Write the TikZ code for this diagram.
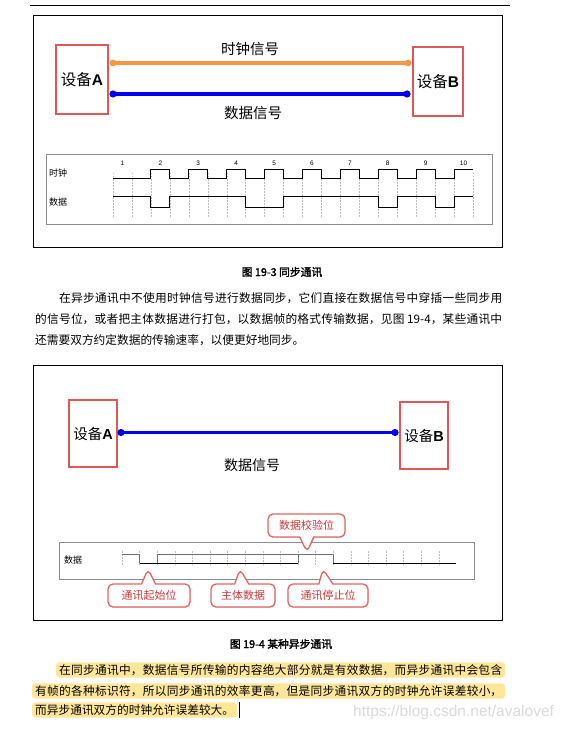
\documentclass[tikz,border=0pt]{standalone}
\usepackage{fontspec}
\setmainfont{Noto Sans CJK SC}[AutoFakeBold=2]
\newfontfamily\latinfont{Liberation Sans}
\usetikzlibrary{arrows.meta, shapes.callouts, shadows}
\XeTeXlinebreaklocale "zh"
\XeTeXlinebreakskip=0pt plus 2pt
\definecolor{devedge}{HTML}{E15757}
\definecolor{clkwire}{HTML}{F79646}
\definecolor{datwire}{HTML}{0000F0}
\definecolor{tfedge}{HTML}{8C8C8C}
\definecolor{gridln}{HTML}{BDBDBD}
\definecolor{calledge}{HTML}{E06666}
\definecolor{calltext}{HTML}{C83A3A}
\definecolor{hlfill}{HTML}{FFE699}
\definecolor{wmark}{HTML}{D9D9D9}
\newcommand{\jline}[1]{\parfillskip=0pt #1\par}

\begin{document}
\begin{tikzpicture}[x=1pt, y=-1pt,
  outframe/.style={rectangle, draw=black, line width=0.9pt, inner sep=0pt},
  tframe/.style={rectangle, draw=tfedge, line width=0.6pt, fill=white, inner sep=0pt,
                 drop shadow={shadow xshift=1pt, shadow yshift=-1pt, opacity=0.6, fill=black}},
  dev/.style={rectangle, draw=devedge, line width=1.5pt, fill=white, inner sep=0pt,
              align=center, font=\fontsize{15.5}{18}\selectfont},
  clk/.style={draw=clkwire, line width=3.6pt},
  dat/.style={draw=datwire, line width=3.2pt},
  clkdot/.style={fill=clkwire},
  datdot/.style={fill=datwire},
  siglab/.style={font=\fontsize{14.5}{17}\selectfont},
  rowlab/.style={font=\fontsize{9}{10}\selectfont},
  numlab/.style={font=\latinfont\fontsize{6.5}{7}\selectfont},
  gridtick/.style={draw=gridln, line width=0.4pt, dash pattern=on 1.5pt off 1.5pt},
  wave/.style={draw=black, line width=0.9pt},
  wavethin/.style={draw=black!55, line width=0.6pt},
  callbox/.style={rectangle callout, rounded corners=5pt, draw=calledge, line width=1.3pt,
                  fill=white, text=calltext, minimum height=23pt, inner xsep=5pt,
                  callout pointer width=14pt, font=\fontsize{11}{13}\selectfont,
                  drop shadow={opacity=0.25, shadow xshift=0.8pt, shadow yshift=-0.8pt}},
  figcap/.style={font=\bfseries\fontsize{10.8}{13}\selectfont},
  para/.style={anchor=west, inner sep=0pt, align=justify, font=\fontsize{11.7}{14}\selectfont},
  hlpara/.style={para, fill=hlfill, rounded corners=3pt, inner xsep=3pt, inner ysep=2pt},
]
\path[use as bounding box] (0,0) rectangle (568,730);
% ================= page header rule ============================
\coordinate (hdl) at (30,5);
\coordinate (hdr) at (510,5);
\draw[line width=0.8pt] (hdl) -- (hdr);
% ================= FIG 19-3: synchronous link ==================
\node[outframe, minimum width=469pt, minimum height=232pt] (fig1) at (267.5,131) {};
\node[dev, minimum width=52pt, minimum height=69pt] (devA) at (82,79.5) {设备{\latinfont\bfseries A}};
\node[dev, minimum width=50pt, minimum height=69pt] (devB) at (438,81.5) {设备{\latinfont\bfseries B}};
\coordinate (clkA) at (113,63);
\coordinate (clkB) at (408,63);
\coordinate (datA) at (113,94);
\coordinate (datB) at (407,94);
\draw[clk] (clkA) -- (clkB);
\draw[dat] (datA) -- (datB);
\fill[clkdot] (clkA) circle[radius=3.4pt] (clkB) circle[radius=3.4pt];
\fill[datdot] (datA) circle[radius=3.6pt] (datB) circle[radius=3.6pt];
\node[siglab] (clklab) at (250,49) {时钟信号};
\node[siglab] (datlab) at (253,113) {数据信号};
% timing chart
\node[tframe, minimum width=446pt, minimum height=70pt] (tf1) at (269,189) {};
\node[rowlab] (rclk) at (58,173) {时钟};
\node[rowlab] (rdat) at (58,202) {数据};
\begin{scope}[shift={(113,0)}, x=18.95pt]
  \foreach \j in {0,...,19} \draw[gridtick] (\j,173) -- (\j,217);
  \foreach \i in {1,...,10} \node[numlab] (num\i) at ({2*\i-1.5},163) {\i};
  \draw[wave] (0,178) -| (2,169) -| (3,178) -| (4,169) -| (5,178) -| (6,169) -| (7,178)
    -| (8,169) -| (9,178) -| (10,169) -| (11,178) -| (12,169) -| (13,178) -| (14,169)
    -| (15,178) -| (16,169) -| (17,178) -| (18,169) -- (19,169);
  \draw[wave] (0,196) -| (2,207) -| (3,196) -| (7,207) -| (9,196) -| (14,207)
    -| (15,196) -| (17,207) -| (18,196) -- (19,196);
\end{scope}
\node[figcap] (cap1) at (282,272) {图 19-3 同步通讯};
% ================= text between the figures ====================
\node[para, text width=443pt] (p1a) at (59,298) {\jline{在异步通讯中不使用时钟信号进行数据同步，它们直接在数据信号中穿插一些同步用}};
\node[para, text width=467pt] (p1b) at (35,319) {\jline{的信号位，或者把主体数据进行打包，以数据帧的格式传输数据，见图 19-4，某些通讯中}};
\node[para] (p1c) at (35,340) {还需要双方约定数据的传输速率，以便更好地同步。};
% ================= FIG 19-4: asynchronous link =================
\node[outframe, minimum width=469pt, minimum height=255pt] (fig2) at (267.5,492.5) {};
\node[dev, minimum width=48pt, minimum height=67pt, font=\fontsize{14.5}{17}\selectfont] (devA2) at (93,433.5) {设备{\latinfont\bfseries A}};
\node[dev, minimum width=48pt, minimum height=67pt, font=\fontsize{14.5}{17}\selectfont] (devB2) at (424,435.5) {设备{\latinfont\bfseries B}};
\coordinate (datA2) at (121,432.5);
\coordinate (datB2) at (395,432.5);
\draw[dat] (datA2) -- (datB2);
\fill[datdot] (datA2) circle[radius=3.6pt] (datB2) circle[radius=3.6pt];
\node[siglab, font=\fontsize{14}{16}\selectfont] (datlab2) at (252,465) {数据信号};
% frame chart
\node[tframe, minimum width=415pt, minimum height=37pt,
      drop shadow={shadow xshift=1.3pt, shadow yshift=-1.3pt, opacity=1, fill=black}] (tf2) at (266.5,560.5) {};
\node[rowlab] (rdat2) at (73,560) {数据};
\begin{scope}[shift={(122,0)}, x=17.6pt]
  \foreach \k in {0,...,18} \draw[gridtick] (\k,551) -- (\k,565);
  \draw[wavethin] (0,554) -| (1,563);
  \draw[wavethin] (2,563) |- (12,554) -- (12,563);
  \draw[wavethin] (10,563) -- (10,554);
  \draw[wave] (1,563) -- (10,563);
  \draw[wave] (12,563) -- (19,563);
\end{scope}
% callouts
\node[callbox, minimum width=77pt, callout absolute pointer={(307,552)}] (cpar) at (306.5,525.5) {数据校验位};
\node[callbox, minimum width=82pt, callout absolute pointer={(148,569)}] (cstart) at (149,595.5) {通讯起始位};
\node[callbox, minimum width=64pt, callout absolute pointer={(240,569)}] (cbody) at (243,595.5) {主体数据};
\node[callbox, minimum width=80pt, callout absolute pointer={(323,569)}] (cstop) at (328,595.5) {通讯停止位};
\node[figcap] (cap2) at (281,644) {图 19-4 某种异步通讯};
% ================= highlighted paragraph =======================
\node[hlpara, text width=443pt] (p2a) at (56,670) {\jline{在同步通讯中，数据信号所传输的内容绝大部分就是有效数据，而异步通讯中会包含}};
\node[hlpara, text width=467pt] (p2b) at (32,691) {\jline{有帧的各种标识符，所以同步通讯的效率更高，但是同步通讯双方的时钟允许误差较小，}};
\node[hlpara] (p2c) at (32,710) {而异步通讯双方的时钟允许误差较大。};
\draw[line width=0.8pt] ([xshift=2pt]p2c.north east) -- ([xshift=2pt]p2c.south east);
\node[font=\latinfont\fontsize{15.5}{18}\selectfont, text=wmark, anchor=west, inner sep=0pt] (wm) at (353,712) {https://blog.csdn.net/avalovef};
\end{tikzpicture}
\end{document}
